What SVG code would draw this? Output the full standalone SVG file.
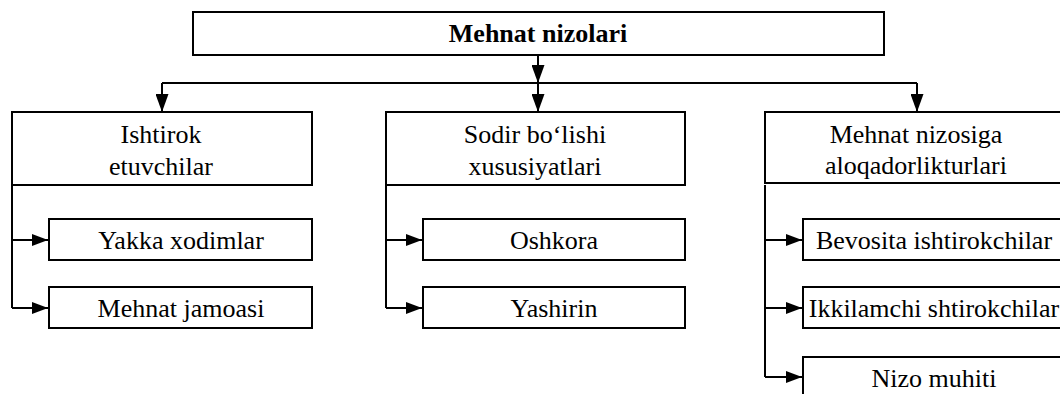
<svg xmlns="http://www.w3.org/2000/svg" width="1060" height="394" viewBox="0 0 1060 394" font-family="'Liberation Serif', 'Times New Roman', 'DejaVu Serif', serif">
<style>
.box{fill:#fff;stroke:#000;stroke-width:2}
.t{font-family:'Liberation Serif','Times New Roman','DejaVu Serif',serif;font-size:26px;fill:#000;text-anchor:middle}
.b{font-weight:bold}
.c{fill:none;stroke:#000;stroke-width:2}
</style>
<defs>
<marker id="av" viewBox="0 0 18 13" refX="18" refY="6.5" markerWidth="18" markerHeight="13" markerUnits="userSpaceOnUse" orient="auto">
<path d="M0,0 L18,6.5 L0,13 z" fill="#000"/>
</marker>
<marker id="ah" viewBox="0 0 16 12" refX="16" refY="6" markerWidth="16" markerHeight="12" markerUnits="userSpaceOnUse" orient="auto">
<path d="M0,0 L16,6 L0,12 z" fill="#000"/>
</marker>
</defs>
<g id="connectors">
<path class="c" d="M538,55 V83" marker-end="url(#av)"/>
<path class="c" d="M162,83 H917"/>
<path class="c" d="M162,83 V112" marker-end="url(#av)"/>
<path class="c" d="M538,83 V112" marker-end="url(#av)"/>
<path class="c" d="M917,83 V112" marker-end="url(#av)"/>
<path class="c" d="M12,185 V308"/>
<path class="c" d="M12,240 H48" marker-end="url(#ah)"/>
<path class="c" d="M12,308 H48" marker-end="url(#ah)"/>
<path class="c" d="M386,185 V308"/>
<path class="c" d="M386,240 H422" marker-end="url(#ah)"/>
<path class="c" d="M386,308 H422" marker-end="url(#ah)"/>
<path class="c" d="M765,185 V377"/>
<path class="c" d="M765,240 H802" marker-end="url(#ah)"/>
<path class="c" d="M765,308 H802" marker-end="url(#ah)"/>
<path class="c" d="M765,377 H802" marker-end="url(#ah)"/>
</g>
<g id="root">
<rect class="box" x="193" y="12" width="691" height="43"/>
<text class="t b" x="538" y="42">Mehnat nizolari</text>
</g>
<g id="ishtirok">
<rect class="box" x="12" y="112" width="300" height="73"/>
<text class="t" x="161" y="143">Ishtirok</text>
<text class="t" x="161" y="175">etuvchilar</text>
</g>
<g id="sodir">
<rect class="box" x="386" y="112" width="299" height="73"/>
<text class="t" x="535" y="143">Sodir bo‘lishi</text>
<text class="t" x="535" y="175">xususiyatlari</text>
</g>
<g id="aloqador">
<rect class="box" x="765" y="112" width="302" height="71"/>
<text class="t" x="916" y="143">Mehnat nizosiga</text>
<text class="t" x="916" y="174">aloqadorlikturlari</text>
</g>
<g id="yakka">
<rect class="box" x="49" y="219" width="263" height="41"/>
<text class="t" x="181" y="249">Yakka xodimlar</text>
</g>
<g id="jamoa">
<rect class="box" x="49" y="287" width="263" height="41"/>
<text class="t" x="181" y="317">Mehnat jamoasi</text>
</g>
<g id="oshkora">
<rect class="box" x="423" y="219" width="262" height="41"/>
<text class="t" x="554" y="249">Oshkora</text>
</g>
<g id="yashirin">
<rect class="box" x="423" y="287" width="262" height="41"/>
<text class="t" x="554" y="317">Yashirin</text>
</g>
<g id="bevosita">
<rect class="box" x="803" y="219" width="264" height="41"/>
<text class="t" x="934" y="249">Bevosita ishtirokchilar</text>
</g>
<g id="ikkilamchi">
<rect class="box" x="803" y="287" width="264" height="41"/>
<text class="t" x="934" y="317">Ikkilamchi shtirokchilar</text>
</g>
<g id="nizo">
<rect class="box" x="803" y="357" width="264" height="45"/>
<text class="t" x="934" y="387">Nizo muhiti</text>
</g>
</svg>
